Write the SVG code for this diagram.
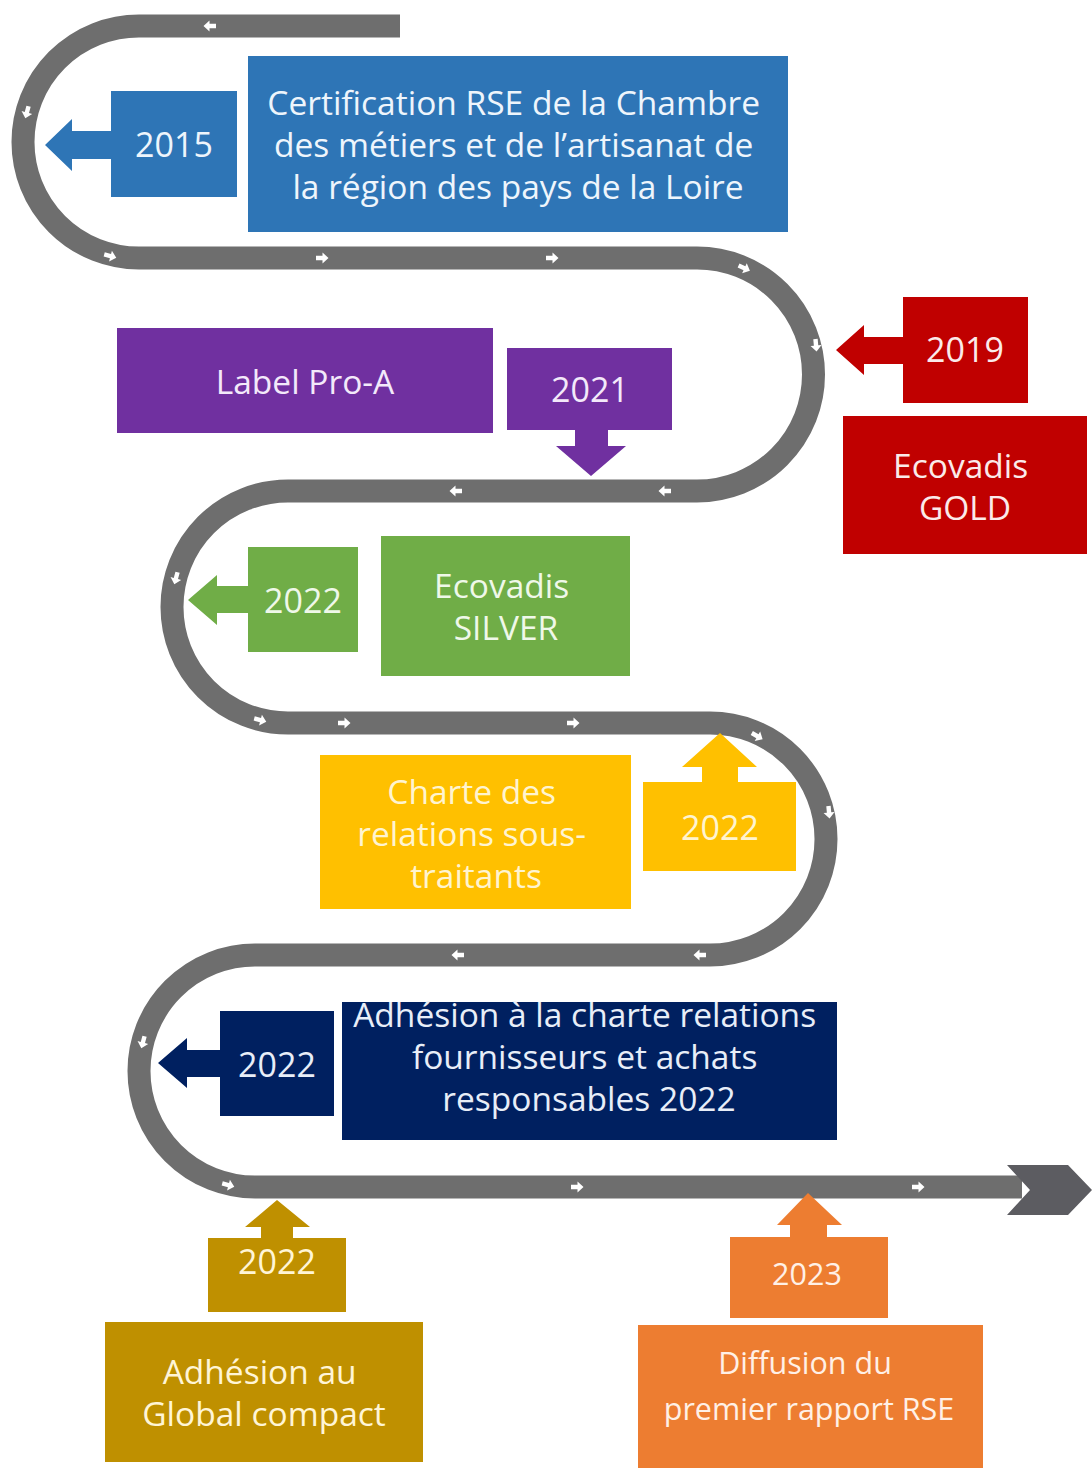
<svg xmlns="http://www.w3.org/2000/svg" xmlns:xlink="http://www.w3.org/1999/xlink" width="1092" height="1468" viewBox="0 0 1092 1468">
  <defs>
    <style>
      .t { font-family: "Open Sans", Lato, "Liberation Sans", sans-serif; text-anchor: middle; }
      .yr { font-size: 34px; }
      .lb { font-size: 33.5px; }
      .road { fill: none; stroke: #6e6e6e; stroke-width: 23; }
    </style>
    <path id="ar" d="M-6,-2.2 L0.5,-2.2 L0.5,-5.5 L6.5,0 L0.5,5.5 L0.5,2.2 L-6,2.2 Z" fill="#ffffff"/>
  </defs>
  <rect width="1092" height="1468" fill="#ffffff"/>

  <g id="connectors">
    <path class="road" d="M 400 26 L 139 26 A 116 116 0 0 0 139 258 L 697 258 A 116.5 116.5 0 0 1 697 491 L 288 491 A 116 116 0 0 0 288 723 L 710 723 A 116 116 0 0 1 710 955 L 255 955 A 116 116 0 0 0 255 1187 L 1022 1187"/>
    <polygon points="1007,1165 1068,1165 1092,1190 1068,1215 1007,1215 1030,1190" fill="#5c5c61"/>
    <g id="road-arrows">
      <use xlink:href="#ar" transform="translate(210,26) rotate(180)"/>
      <use xlink:href="#ar" transform="translate(27,112) rotate(105)"/>
      <use xlink:href="#ar" transform="translate(110,256) rotate(15)"/>
      <use xlink:href="#ar" transform="translate(322,258)"/>
      <use xlink:href="#ar" transform="translate(552,258)"/>
      <use xlink:href="#ar" transform="translate(744,268) rotate(25)"/>
      <use xlink:href="#ar" transform="translate(816,345) rotate(85)"/>
      <use xlink:href="#ar" transform="translate(665,491) rotate(180)"/>
      <use xlink:href="#ar" transform="translate(456,491) rotate(180)"/>
      <use xlink:href="#ar" transform="translate(176,578) rotate(105)"/>
      <use xlink:href="#ar" transform="translate(260,720) rotate(15)"/>
      <use xlink:href="#ar" transform="translate(344,723)"/>
      <use xlink:href="#ar" transform="translate(573,723)"/>
      <use xlink:href="#ar" transform="translate(757,736) rotate(30)"/>
      <use xlink:href="#ar" transform="translate(829,812) rotate(85)"/>
      <use xlink:href="#ar" transform="translate(700,955) rotate(180)"/>
      <use xlink:href="#ar" transform="translate(458,955) rotate(180)"/>
      <use xlink:href="#ar" transform="translate(143,1042) rotate(105)"/>
      <use xlink:href="#ar" transform="translate(228,1185) rotate(15)"/>
      <use xlink:href="#ar" transform="translate(577,1187)"/>
      <use xlink:href="#ar" transform="translate(918,1187)"/>
    </g>
  </g>

  <!-- 2015 -->
  <g id="y2015">
    <polygon points="111,131 72,131 72,119 45,145 72,171 72,159 111,159" fill="#2e75b6"/>
    <rect x="111" y="91" width="126" height="106" fill="#2e75b6"/>
    <text class="t yr" x="174" y="157" fill="#eef5fc">2015</text>
  </g>
  <g id="certification">
    <rect x="248" y="56" width="540" height="176" fill="#2e75b6"/>
    <text class="t lb" fill="#eef5fc">
      <tspan x="518" y="115">Certification RSE de la Chambre</tspan>
      <tspan x="518" y="157">des métiers et de l’artisanat de</tspan>
      <tspan x="518" y="199">la région des pays de la Loire</tspan>
    </text>
  </g>

  <!-- 2019 -->
  <g id="y2019">
    <polygon points="903,337 864,337 864,325 836,350 864,375 864,364 903,364" fill="#c00000"/>
    <rect x="903" y="297" width="125" height="106" fill="#c00000"/>
    <text class="t yr" x="965" y="362" fill="#fbeaea">2019</text>
  </g>
  <g id="gold">
    <rect x="843" y="416" width="244" height="138" fill="#c00000"/>
    <text class="t lb" fill="#fbeaea">
      <tspan x="965" y="478">Ecovadis</tspan>
      <tspan x="965" y="520">GOLD</tspan>
    </text>
  </g>

  <!-- Label Pro-A / 2021 -->
  <g id="proa">
    <rect x="117" y="328" width="376" height="105" fill="#7030a0"/>
    <text class="t lb" x="305" y="394" fill="#f3e9fa">Label Pro-A</text>
  </g>
  <g id="y2021">
    <polygon points="575,430 575,446 556,446 591,476 626,446 608,446 608,430" fill="#7030a0"/>
    <rect x="507" y="348" width="165" height="82" fill="#7030a0"/>
    <text class="t yr" x="590" y="402" fill="#f3e9fa">2021</text>
  </g>

  <!-- 2022 green -->
  <g id="y2022-green">
    <polygon points="248,586 217,586 217,575 188,600 217,625 217,613 248,613" fill="#70ad47"/>
    <rect x="248" y="547" width="110" height="105" fill="#70ad47"/>
    <text class="t yr" x="303" y="613" fill="#eff8e9">2022</text>
  </g>
  <g id="silver">
    <rect x="381" y="536" width="249" height="140" fill="#70ad47"/>
    <text class="t lb" fill="#eff8e9">
      <tspan x="506" y="598">Ecovadis</tspan>
      <tspan x="506" y="640">SILVER</tspan>
    </text>
  </g>

  <!-- yellow -->
  <g id="charte">
    <rect x="320" y="755" width="311" height="154" fill="#ffc000"/>
    <text class="t lb" fill="#fff4d0">
      <tspan x="476" y="804">Charte des</tspan>
      <tspan x="476" y="846">relations sous-</tspan>
      <tspan x="476" y="888">traitants</tspan>
    </text>
  </g>
  <g id="y2022-yellow">
    <polygon points="702,782 702,767 682,767 720,733 757,767 738,767 738,782" fill="#ffc000"/>
    <rect x="643" y="782" width="153" height="89" fill="#ffc000"/>
    <text class="t yr" x="720" y="840" fill="#fff4d0">2022</text>
  </g>

  <!-- navy -->
  <g id="y2022-navy">
    <polygon points="220,1050 187,1050 187,1038 158,1063 187,1088 187,1077 220,1077" fill="#002060"/>
    <rect x="220" y="1011" width="114" height="105" fill="#002060"/>
    <text class="t yr" x="277" y="1077" fill="#e8eef8">2022</text>
  </g>
  <g id="adhesion-charte">
    <rect x="342" y="1002" width="495" height="138" fill="#002060"/>
    <text class="t lb" fill="#e8eef8">
      <tspan x="589" y="1027">Adhésion à la charte relations</tspan>
      <tspan x="589" y="1069">fournisseurs et achats</tspan>
      <tspan x="589" y="1111">responsables 2022</tspan>
    </text>
  </g>

  <!-- dark gold -->
  <g id="y2022-gold">
    <polygon points="261,1239 261,1227 245,1227 277,1200 310,1227 293,1227 293,1239" fill="#bf9000"/>
    <rect x="208" y="1238" width="138" height="74" fill="#bf9000"/>
    <text class="t yr" x="277" y="1274" fill="#fff5d6">2022</text>
  </g>
  <g id="global-compact">
    <rect x="105" y="1322" width="318" height="140" fill="#bf9000"/>
    <text class="t lb" fill="#fff5d6">
      <tspan x="264" y="1384">Adhésion au</tspan>
      <tspan x="264" y="1426">Global compact</tspan>
    </text>
  </g>

  <!-- orange -->
  <g id="y2023">
    <polygon points="790,1237 790,1225 777,1225 808,1193 842,1225 827,1225 827,1237" fill="#ed7d31"/>
    <rect x="730" y="1237" width="158" height="81" fill="#ed7d31"/>
    <text class="t" style="font-size:30.5px" x="807" y="1285" fill="#fff0e6">2023</text>
  </g>
  <g id="rapport">
    <rect x="638" y="1325" width="345" height="143" fill="#ed7d31"/>
    <text class="t" style="font-size:30.5px" fill="#fff0e6">
      <tspan x="809" y="1374">Diffusion du</tspan>
      <tspan x="809" y="1420">premier rapport RSE</tspan>
    </text>
  </g>
</svg>
